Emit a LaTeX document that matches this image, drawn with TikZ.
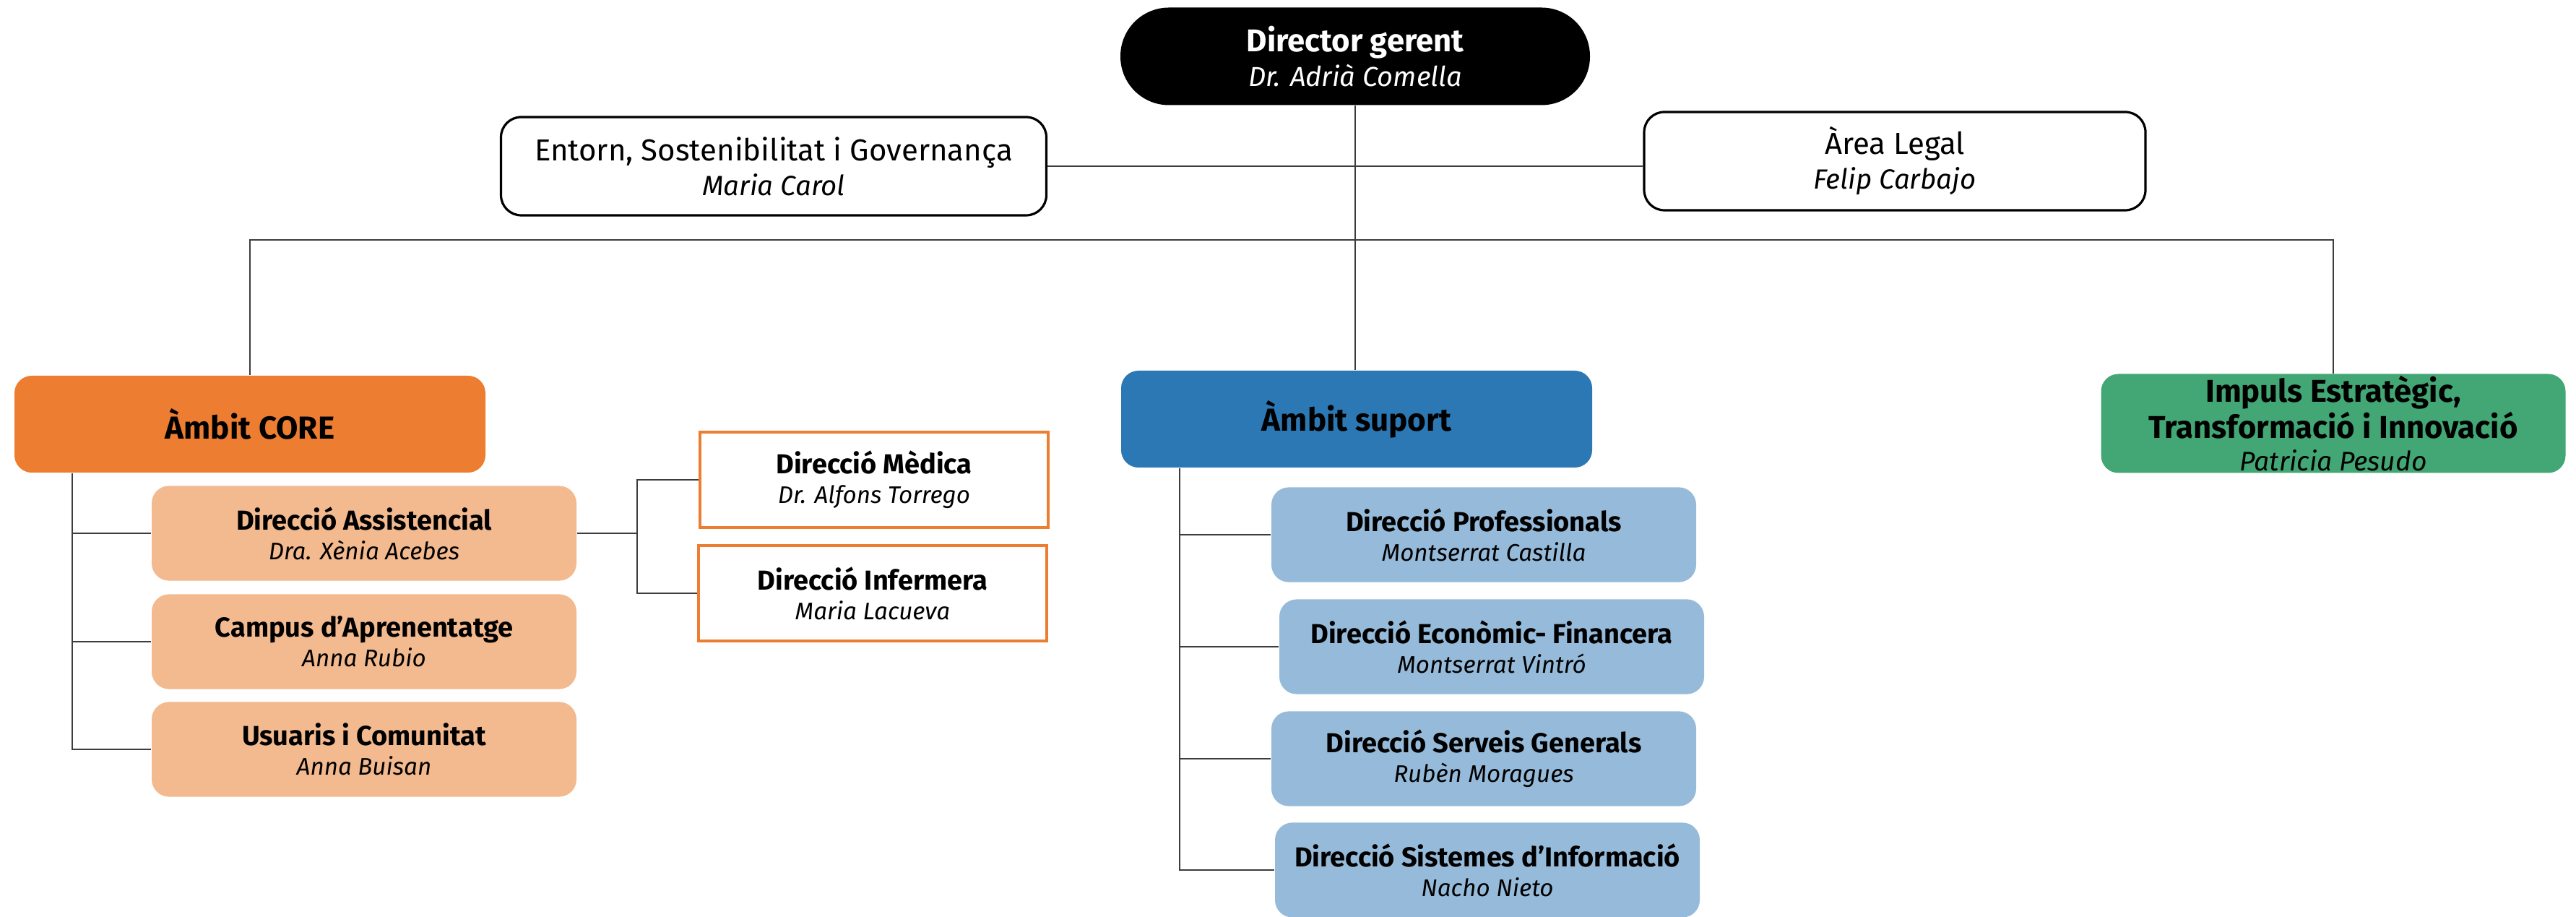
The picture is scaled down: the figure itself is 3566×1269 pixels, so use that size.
\documentclass[tikz,border=0pt]{standalone}
\usepackage{fontspec}
\setmainfont{Fira Sans}
\usepackage{tikz}
\usetikzlibrary{calc,positioning}
\definecolor{coreorange}{RGB}{237,125,49}
\definecolor{corepeach}{RGB}{243,185,143}
\definecolor{suportblue}{RGB}{43,120,181}
\definecolor{suportlight}{RGB}{150,187,218}
\definecolor{impulsgreen}{RGB}{66,167,116}
\definecolor{linegray}{RGB}{60,60,60}
\tikzset{
    box/.style={align=center, inner sep=0pt, text=black},
    topbox/.style={box, fill=black, text=white, rounded corners=16.8pt,
        minimum width=162.5pt, minimum height=33.75pt, font=\fontsize{10.9}{12}\selectfont},
    staffbox/.style={box, draw=black, line width=0.8pt, fill=white, rounded corners=7pt,
        minimum height=34pt, font=\fontsize{10.5}{12}\selectfont},
    ambitbox/.style={box, rounded corners=6pt, minimum width=163pt, minimum height=33.5pt,
        font=\fontsize{11}{11.2}\selectfont},
    subbox/.style={box, rounded corners=6pt, minimum width=147pt, minimum height=32.8pt,
        font=\fontsize{9.5}{10.3}\selectfont},
    framebox/.style={box, draw=coreorange, line width=1pt, fill=white,
        minimum width=120.5pt, minimum height=33pt, font=\fontsize{9.5}{10.3}\selectfont},
    link/.style={draw=linegray, line width=0.7pt},
}
\newcommand{\bigtitle}[2]{{\bfseries #1}\\{\fontsize{9.5}{12}\selectfont\itshape #2}}
\newcommand{\stafftitle}[2]{#1\\{\fontsize{9.6}{12}\selectfont\itshape #2}}
\newcommand{\subtitle}[2]{{\bfseries #1}\\{\fontsize{8.3}{10.3}\selectfont\itshape #2}}
\newcommand{\impulstitle}{{\fontsize{10.9}{11.2}\selectfont\bfseries Impuls Estratègic,}\\{\fontsize{10.9}{11.2}\selectfont\bfseries Transformació i Innovació}\\{\fontsize{9.3}{11.2}\selectfont\itshape Patricia Pesudo}}
\begin{document}
\begin{tikzpicture}[x=0.25pt,y=0.25pt,yscale=-1,xscale=1]
		\useasboundingbox (0,0) rectangle (3566,1269);

		% Text Node
		\node [topbox] (dir) at (1876,78) {\bigtitle{Director gerent}{Dr. Adrià Comella}};
		% Text Node
		\node [staffbox, minimum width=188.75pt] (entorn) at (1071,230) {\stafftitle{Entorn, Sostenibilitat i Governança}{Maria Carol}};
		% Text Node
		\node [staffbox, minimum width=173.5pt] (legal) at (2623,223) {\stafftitle{Àrea Legal}{Felip Carbajo}};

		% Text Node
		\node [ambitbox, fill=coreorange] (core) at (346,587) {\bfseries Àmbit CORE};
		% Text Node
		\node [ambitbox, fill=suportblue] (suport) at (1878,580) {\bfseries Àmbit suport};
		% Text Node
		\node [ambitbox, fill=impulsgreen, minimum width=160.75pt, minimum height=34.25pt] (impuls) at (3230,586) {\impulstitle};

		% Text Node
		\node [subbox, fill=corepeach] (assist) at (504,738) {\subtitle{Direcció Assistencial}{Dra. Xènia Acebes}};
		\node [subbox, fill=corepeach] (campus) at (504,888) {\subtitle{Campus d’Aprenentatge}{Anna Rubio}};
		\node [subbox, fill=corepeach] (usuaris) at (504,1037) {\subtitle{Usuaris i Comunitat}{Anna Buisan}};
		% Text Node
		\node [framebox] (medica) at (1210,664) {\subtitle{Direcció Mèdica}{Dr. Alfons Torrego}};
		\node [framebox] (infermera) at (1208,821) {\subtitle{Direcció Infermera}{Maria Lacueva}};

		% Text Node
		\node [subbox, fill=suportlight] (prof) at (2054,740) {\subtitle{Direcció Professionals}{Montserrat Castilla}};
		\node [subbox, fill=suportlight] (econ) at (2065,895) {\subtitle{Direcció Econòmic- Financera}{Montserrat Vintró}};
		\node [subbox, fill=suportlight] (serveis) at (2054,1050) {\subtitle{Direcció Serveis Generals}{Rubèn Moragues}};
		\node [subbox, fill=suportlight] (sistemes) at (2059,1204) {\subtitle{Direcció Sistemes d’Informació}{Nacho Nieto}};

		% Connection
		\coordinate (bus) at (0,332);
		\coordinate (coretrunk) at (100,0);
		\coordinate (suporttrunk) at (1633,0);
		\coordinate (split) at (882,738);

		% Connection
		\draw [link] (dir.south) -- (dir.south |- suport.north);
		\draw [link] (entorn.east) -- (entorn.east -| legal.west);
		\draw [link] (core.north) -- (core.north |- bus) -- (impuls.north |- bus) -- (impuls.north);

		% Connection
		\draw [link] (coretrunk |- core.south) |- (usuaris.west);
		\draw [link] (coretrunk |- assist.west) -- (assist.west);
		\draw [link] (coretrunk |- campus.west) -- (campus.west);
		\draw [link] (assist.east) -- (split);
		\draw [link] (medica.west) -| (split) |- (infermera.west);

		% Connection
		\draw [link] (suporttrunk |- suport.south) |- (sistemes.west);
		\foreach \n in {prof,econ,serveis}
			\draw [link] (suporttrunk |- \n.west) -- (\n.west);

		\end{tikzpicture}
\end{document}
